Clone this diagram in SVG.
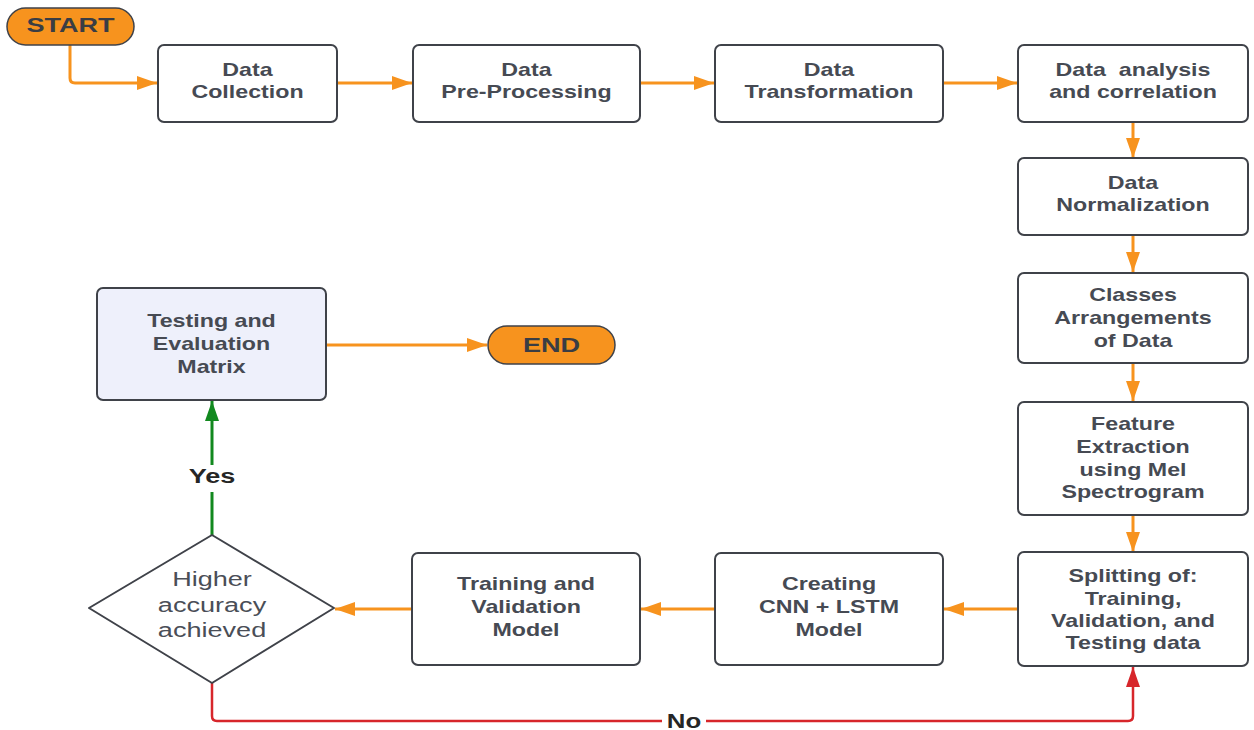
<svg xmlns="http://www.w3.org/2000/svg" width="1254" height="730" viewBox="0 0 1254 730">
<style>
.box{fill:#ffffff;stroke:#3f4249;stroke-width:2}
.pill{fill:#f7931e;stroke:#3f4249;stroke-width:1.5}
.t{font-family:"Liberation Sans",Arial,sans-serif;font-weight:bold;font-size:18px;fill:#464a53;text-anchor:middle}
.tp{font-family:"Liberation Sans",Arial,sans-serif;font-weight:bold;font-size:21px;fill:#3a3d44;text-anchor:middle}
.td{font-family:"Liberation Sans",Arial,sans-serif;font-size:21px;fill:#4a4e57;text-anchor:middle}
.tl{font-family:"Liberation Sans",Arial,sans-serif;font-weight:bold;font-size:21px;fill:#262626;text-anchor:middle}
.o{fill:none;stroke:#f7931e;stroke-width:3}
.g{fill:none;stroke:#12891f;stroke-width:3}
.r{fill:none;stroke:#d7262b;stroke-width:2.5}
</style>
<defs>
<marker id="ao" markerUnits="userSpaceOnUse" markerWidth="21" markerHeight="15" refX="20" refY="7" orient="auto"><path d="M0,0 L20,7 L0,14 z" fill="#f7931e"/></marker>
<marker id="ag" markerUnits="userSpaceOnUse" markerWidth="21" markerHeight="15" refX="20" refY="7" orient="auto"><path d="M0,0 L20,7 L0,14 z" fill="#12891f"/></marker>
<marker id="ar" markerUnits="userSpaceOnUse" markerWidth="21" markerHeight="15" refX="20" refY="7" orient="auto"><path d="M0,0 L20,7 L0,14 z" fill="#d7262b"/></marker>
</defs>
<rect width="1254" height="730" fill="#ffffff"/>

<g id="connectors">
<path class="o" d="M70 45 V78 Q70 83 75 83 H157" marker-end="url(#ao)"/>
<path class="o" d="M337 83 H412" marker-end="url(#ao)"/>
<path class="o" d="M640 83 H714" marker-end="url(#ao)"/>
<path class="o" d="M943 83 H1017" marker-end="url(#ao)"/>
<path class="o" d="M1133 122 V158" marker-end="url(#ao)"/>
<path class="o" d="M1133 235 V272" marker-end="url(#ao)"/>
<path class="o" d="M1133 363 V401" marker-end="url(#ao)"/>
<path class="o" d="M1133 515 V552" marker-end="url(#ao)"/>
<path class="o" d="M1018 609 H944" marker-end="url(#ao)"/>
<path class="o" d="M715 609 H641" marker-end="url(#ao)"/>
<path class="o" d="M412 609 H335" marker-end="url(#ao)"/>
<path class="o" d="M326 345 H487" marker-end="url(#ao)"/>
<path class="g" d="M212 535 V401" marker-end="url(#ag)"/>
<rect x="182" y="465" width="60" height="27" fill="#ffffff"/>
<text class="tl" transform="translate(212 0) scale(1.29 1)" x="0" y="483">Yes</text>
<path class="r" d="M212 683 V716 Q212 721 217 721 H1128 Q1133 721 1133 716 V667" marker-end="url(#ar)"/>
<rect x="662" y="710" width="44" height="20" fill="#ffffff"/>
<text class="tl" transform="translate(684 0) scale(1.29 1)" x="0" y="728" style="font-size:20px">No</text>
</g>

<g id="start">
<rect class="pill" x="7" y="8" width="127" height="37" rx="18.5"/>
<text class="tp" transform="translate(70.5 0) scale(1.29 1)" x="0" y="32">START</text>
</g>

<g id="data-collection">
<rect class="box" x="158" y="45" width="179" height="77" rx="6"/>
<text class="t" transform="translate(247.5 0) scale(1.29 1)"><tspan x="0" y="76.5">Data</tspan><tspan x="0" y="98.5">Collection</tspan></text>
</g>

<g id="data-preprocessing">
<rect class="box" x="413" y="45" width="227" height="77" rx="6"/>
<text class="t" transform="translate(526.5 0) scale(1.29 1)"><tspan x="0" y="76.5">Data</tspan><tspan x="0" y="98.5">Pre-Processing</tspan></text>
</g>

<g id="data-transformation">
<rect class="box" x="715" y="45" width="228" height="77" rx="6"/>
<text class="t" transform="translate(829 0) scale(1.29 1)"><tspan x="0" y="76.5">Data</tspan><tspan x="0" y="98.5">Transformation</tspan></text>
</g>

<g id="data-analysis">
<rect class="box" x="1018" y="45" width="230" height="77" rx="6"/>
<text class="t" transform="translate(1133 0) scale(1.29 1)" xml:space="preserve"><tspan x="0" y="76.5">Data  analysis</tspan><tspan x="0" y="98.5">and correlation</tspan></text>
</g>

<g id="data-normalization">
<rect class="box" x="1018" y="158" width="230" height="77" rx="6"/>
<text class="t" transform="translate(1133 0) scale(1.29 1)"><tspan x="0" y="189.5">Data</tspan><tspan x="0" y="211.5">Normalization</tspan></text>
</g>

<g id="classes-arrangements">
<rect class="box" x="1018" y="273" width="230" height="90" rx="6"/>
<text class="t" transform="translate(1133 0) scale(1.29 1)"><tspan x="0" y="301.5">Classes</tspan><tspan x="0" y="324.5">Arrangements</tspan><tspan x="0" y="347.5">of Data</tspan></text>
</g>

<g id="feature-extraction">
<rect class="box" x="1018" y="402" width="230" height="113" rx="6"/>
<text class="t" transform="translate(1133 0) scale(1.29 1)"><tspan x="0" y="430.5">Feature</tspan><tspan x="0" y="453.5">Extraction</tspan><tspan x="0" y="476.5">using Mel</tspan><tspan x="0" y="498.5">Spectrogram</tspan></text>
</g>

<g id="splitting">
<rect class="box" x="1018" y="552" width="230" height="114" rx="6"/>
<text class="t" transform="translate(1133 0) scale(1.29 1)"><tspan x="0" y="582.5">Splitting of:</tspan><tspan x="0" y="605.5">Training,</tspan><tspan x="0" y="627.5">Validation, and</tspan><tspan x="0" y="649.5">Testing data</tspan></text>
</g>

<g id="creating-model">
<rect class="box" x="715" y="553" width="228" height="112" rx="6"/>
<text class="t" transform="translate(829 0) scale(1.29 1)"><tspan x="0" y="590.5">Creating</tspan><tspan x="0" y="613.5">CNN + LSTM</tspan><tspan x="0" y="636.5">Model</tspan></text>
</g>

<g id="training-validation">
<rect class="box" x="412" y="553" width="228" height="112" rx="6"/>
<text class="t" transform="translate(526 0) scale(1.29 1)"><tspan x="0" y="590.5">Training and</tspan><tspan x="0" y="613.5">Validation</tspan><tspan x="0" y="636.5">Model</tspan></text>
</g>

<g id="decision">
<path d="M212 535 L334 608 L212 683 L89 608 Z" fill="#ffffff" stroke="#3f4249" stroke-width="2" stroke-linejoin="round"/>
<text class="td" transform="translate(212 0) scale(1.29 1)"><tspan x="0" y="586.5">Higher</tspan><tspan x="0" y="612.5">accuracy</tspan><tspan x="0" y="637.5">achieved</tspan></text>
</g>

<g id="testing-evaluation">
<rect x="97" y="288" width="229" height="112" rx="6" fill="#eef0fb" stroke="#3f4249" stroke-width="2"/>
<text class="t" transform="translate(211.5 0) scale(1.29 1)"><tspan x="0" y="327.5">Testing and</tspan><tspan x="0" y="350.5">Evaluation</tspan><tspan x="0" y="373.5">Matrix</tspan></text>
</g>

<g id="end">
<rect class="pill" x="488" y="326" width="127" height="38" rx="19"/>
<text class="tp" transform="translate(551.5 0) scale(1.29 1)" x="0" y="352.5">END</text>
</g>
</svg>
